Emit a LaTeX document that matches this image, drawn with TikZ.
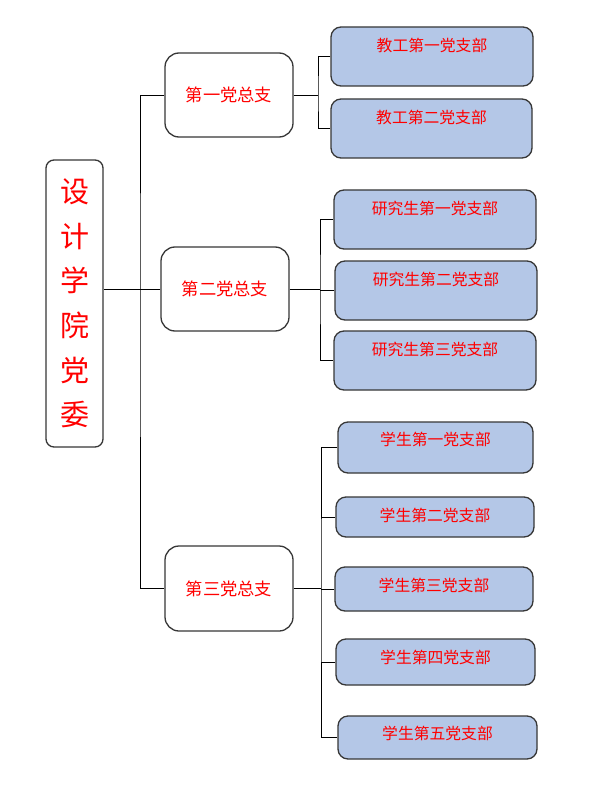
\documentclass[tikz,border=0pt]{standalone}
\usepackage{fontspec}
\newfontfamily\cjk{Noto Sans CJK SC}
\definecolor{boxline}{RGB}{55,55,55}
\definecolor{leafblue}{RGB}{180,199,231}
\tikzset{
	rootbox/.style={draw=boxline,line width=1.3pt,rounded corners=8pt,fill=white,inner sep=0pt,
		text=red,align=center,font=\cjk\fontsize{29}{44.6}\selectfont},
	branchbox/.style={draw=boxline,line width=1.3pt,rounded corners=14pt,fill=white,inner sep=0pt,
		minimum width=128pt,minimum height=84pt,text=red,font=\cjk\fontsize{17.3}{20}\selectfont},
	leafbox/.style={draw=boxline,line width=1.3pt,rounded corners=10pt,fill=leafblue,inner sep=0pt,
		text=red,text height=11pt,font=\cjk\fontsize{15.8}{18}\selectfont},
	wire/.style={black,line width=0.9pt}
}
\begin{document}
\begin{tikzpicture}[x=1pt,y=-1pt]
	\useasboundingbox[fill=white](0,0) rectangle (605,786);
	
	% root and the three branches
	\node[rootbox,minimum width=57pt,minimum height=287pt](root) at (74.5,303.5) {设\\计\\学\\院\\党\\委};
	\node[branchbox](t1) at (229,95) {第一党总支};
	\node[branchbox](t2) at (225,289) {第二党总支};
	\node[branchbox,minimum height=85pt](t3) at (229,588.5) {第三党总支};
	
	% leaves
	\node[leafbox,minimum width=202pt,minimum height=59pt,text depth=20.6pt](a1) at (432,56.5) {教工第一党支部};
	\node[leafbox,minimum width=201pt,minimum height=59pt,text depth=20.6pt](a2) at (431.5,128.5) {教工第二党支部};
	
	\node[leafbox,minimum width=202pt,minimum height=59pt,text depth=20.6pt](g1) at (435,219.5) {研究生第一党支部};
	\node[leafbox,minimum width=202pt,minimum height=59pt,text depth=20.6pt](g2) at (436,290.5) {研究生第二党支部};
	\node[leafbox,minimum width=202pt,minimum height=59pt,text depth=20.6pt](g3) at (435,360.5) {研究生第三党支部};
	
	\node[leafbox,minimum width=195pt,minimum height=51pt,text depth=14.6pt](s1) at (435.5,447.5) {学生第一党支部};
	\node[leafbox,minimum width=198pt,minimum height=40pt,text depth=1.6pt](s2) at (435,517) {学生第二党支部};
	\node[leafbox,minimum width=198pt,minimum height=44pt,text depth=5.6pt](s3) at (434,589) {学生第三党支部};
	\node[leafbox,minimum width=199pt,minimum height=46pt,text depth=7.6pt](s4) at (435.5,662) {学生第四党支部};
	\node[leafbox,minimum width=199pt,minimum height=43pt,text depth=6.6pt](s5) at (437.5,737.5) {学生第五党支部};
	
	% connectors
	\coordinate (bus) at (140,0);
	\coordinate (b1) at (318,0);
	\coordinate (b2) at (320,0);
	\coordinate (b3) at (321,0);
	
	\draw[wire](t2.west)--(t2.west -| root.east);
	\draw[wire](t1.west)-|(bus |- t2.west)|-(t3.west);
	
	\draw[wire](t1.east)--(t1.east -| b1);
	\draw[wire](a1.west)-|(b1 |- t1.east)|-(a2.west);
	
	\draw[wire](t2.east)--(t2.east -| b2);
	\draw[wire](g1.west)-|(b2 |- t2.east)|-(g3.west);
	\draw[wire](g2.west)--(g2.west -| b2);
	
	\draw[wire](t3.east)--(t3.east -| b3);
	\draw[wire](s1.west)-|(b3 |- t3.east)|-(s5.west);
	\draw[wire](s2.west)--(s2.west -| b3);
	\draw[wire](s3.west)--(s3.west -| b3);
	\draw[wire](s4.west)--(s4.west -| b3);
	
\end{tikzpicture}
\end{document}
